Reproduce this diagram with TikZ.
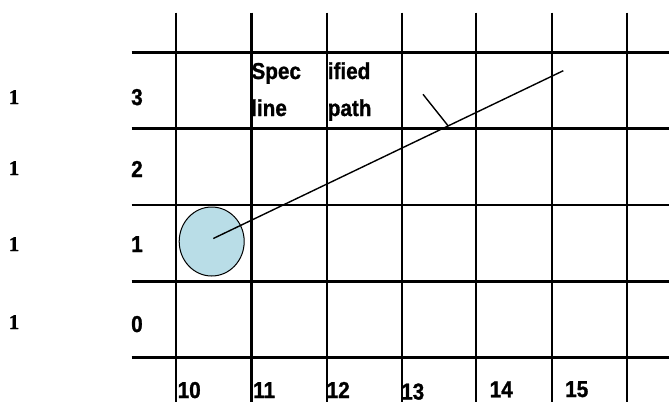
\documentclass[tikz,border=0pt]{standalone}
\usepackage{fontspec}
\usetikzlibrary{shapes.geometric}
\setmainfont{Liberation Sans}[FakeStretch=0.9, BoldFeatures={FakeBold=1.2}]
\newfontfamily\serfont{Liberation Serif}[BoldFeatures={FakeBold=1.2}]
\definecolor{ballblue}{RGB}{185,221,231}
\begin{document}
\begin{tikzpicture}[x=1pt,y=-1pt,
  gridline/.style={line width=2.8pt},
  pathline/.style={line width=1.4pt},
  lab/.style={inner sep=0pt, anchor=base west, font=\bfseries\fontsize{23}{27}\selectfont},
  serlab/.style={inner sep=0pt, anchor=base west, font=\serfont\bfseries\fontsize{21}{25}\selectfont},
  ball/.style={ellipse, draw, line width=1pt, fill=ballblue, minimum width=65pt, minimum height=69pt, inner sep=0pt}
]
\useasboundingbox (0,0) rectangle (669,402);
% grid
\foreach \x in {176,251.5,327,402,476,552,627}
  \draw[gridline] (\x,12.7) -- (\x,402);
\foreach \y in {52.3,128.7,205,281.7,357.3}
  \draw[gridline] (131.5,\y) -- (669,\y);
% left labels
\node[serlab] (a3) at (8.6,104) {1};
\node[serlab] (a2) at (8.6,175) {1};
\node[serlab] (a1) at (8.6,251) {1};
\node[serlab] (a0) at (8.6,329) {1};
\node[lab] (r3) at (131,105) {3};
\node[lab] (r2) at (131,177) {2};
\node[lab] (r1) at (131,252) {1};
\node[lab] (r0) at (131,332) {0};
% bottom labels
\node[lab] (c10) at (177.5,398) {10};
\node[lab] (c11) at (253,398) {11};
\node[lab] (c12) at (326.5,398) {12};
\node[lab] (c13) at (401,399.5) {13};
\node[lab] (c14) at (489.5,397.3) {14};
\node[lab] (c15) at (565,397) {15};
% text
\node[lab] (t1) at (251.3,79) {Spec};
\node[lab] (t2) at (251,116) {line};
\node[lab] (t3) at (327.6,79) {ified};
\node[lab] (t4) at (327.6,116) {path};
% ball and path
\node[ball] (ball) at (211.7,241.5) {};
\coordinate (start) at (213.3,238.5);
\coordinate (end) at (563.3,70.7);
\coordinate (tickTop) at (423,94.3);
\draw[pathline] (start) -- (end) coordinate[pos=0.671] (tickFoot);
\draw[pathline] (tickTop) -- (tickFoot);
\end{tikzpicture}
\end{document}
